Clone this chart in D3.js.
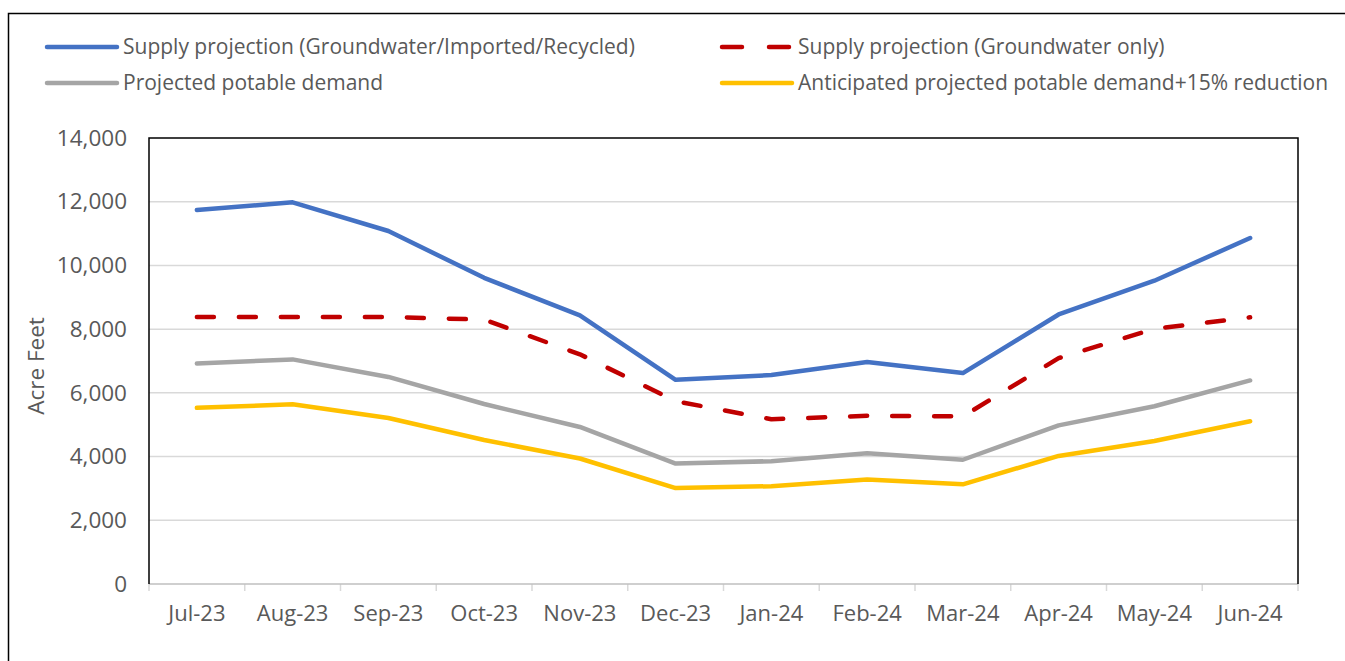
<!DOCTYPE html>
<html>
<head>
<meta charset="utf-8">
<script src="https://cdn.jsdelivr.net/npm/d3@7"></script>
<style>
  body { margin: 0; background: #fff; }
  text { font-family: "Open Sans", sans-serif; fill: #595959; }
</style>
</head>
<body>
<div id="chart"></div>
<script>
// Monthly water supply vs demand projection (acre feet)

var months = ["Jul-23", "Aug-23", "Sep-23", "Oct-23", "Nov-23", "Dec-23",
              "Jan-24", "Feb-24", "Mar-24", "Apr-24", "May-24", "Jun-24"];

var supplyAll = [11740, 11980, 11080, 9610, 8430, 6410, 6560, 6970, 6620, 8460, 9520, 10860];
var supplyGroundwater = [8380, 8380, 8380, 8300, 7210, 5740, 5170, 5280, 5260, 7090, 8010, 8370];
var potableDemand = [6920, 7050, 6500, 5650, 4930, 3780, 3855, 4105, 3900, 4980, 5580, 6390];
var reducedDemand = [5530, 5640, 5210, 4520, 3940, 3010, 3070, 3280, 3130, 4020, 4490, 5110];

var yTicks = [0, 2000, 4000, 6000, 8000, 10000, 12000, 14000];

var seriesNames = [
  "Supply projection (Groundwater/Imported/Recycled)",
  "Supply projection (Groundwater only)",
  "Projected potable demand",
  "Anticipated projected potable demand+15% reduction"
];

var series = [
  { name: seriesNames[0], values: supplyAll, color: "#4472C4", dash: null },
  { name: seriesNames[1], values: supplyGroundwater, color: "#C00000", dash: "17,25" },
  { name: seriesNames[2], values: potableDemand, color: "#A5A5A5", dash: null },
  { name: seriesNames[3], values: reducedDemand, color: "#FFC000", dash: null }
];

// chart set up
var svgWidth = 1345;
var svgHeight = 661;
var plot = { left: 149, right: 1298, top: 138, bottom: 584 };

var svg = d3.select("#chart")
  .append("svg")
  .attr("width", svgWidth)
  .attr("height", svgHeight);

// outer frame (left and top only)
svg.append("path")
  .attr("d", "M8.5," + svgHeight + " V13.5 H" + svgWidth)
  .attr("fill", "none")
  .attr("stroke", "#000")
  .attr("stroke-width", 1.5);

var x = d3.scaleBand()
  .domain(months)
  .range([plot.left, plot.right])
  .padding(0);

var y = d3.scaleLinear()
  .domain([0, 14000])
  .range([plot.bottom, plot.top]);

// gridlines
svg.append("g")
  .selectAll("line")
  .data(yTicks.filter(d => d > 0 && d < 14000))
  .enter()
  .append("line")
  .attr("x1", plot.left)
  .attr("x2", plot.right)
  .attr("y1", d => y(d))
  .attr("y2", d => y(d))
  .attr("stroke", "#D9D9D9")
  .attr("stroke-width", 1.5);

// y axis labels
var yAxis = svg.append("g")
  .attr("transform", "translate(" + plot.left + ",0)")
  .call(d3.axisLeft(y).tickValues(yTicks).tickSize(0).tickPadding(22).tickFormat(d3.format(",")));
yAxis.select(".domain").remove();
yAxis.selectAll("text")
  .attr("font-size", "22.5px")
  .attr("fill", "#595959")
  .style("font-family", "'Open Sans', sans-serif");

// x axis
var xAxis = svg.append("g")
  .attr("transform", "translate(0," + plot.bottom + ")")
  .call(d3.axisBottom(x).tickSize(0).tickPadding(21));
xAxis.select(".domain").remove();
xAxis.selectAll("text")
  .attr("font-size", "22px")
  .attr("fill", "#595959")
  .style("font-family", "'Open Sans', sans-serif");

// x tick marks at category boundaries
var bounds = months.map(m => x(m)).concat([plot.right]);
svg.append("g")
  .selectAll("line")
  .data(bounds)
  .enter()
  .append("line")
  .attr("x1", d => d)
  .attr("x2", d => d)
  .attr("y1", plot.bottom)
  .attr("y2", plot.bottom + 7)
  .attr("stroke", "#D9D9D9")
  .attr("stroke-width", 1.5);

// bottom axis line
svg.append("line")
  .attr("x1", plot.left)
  .attr("x2", plot.right)
  .attr("y1", plot.bottom)
  .attr("y2", plot.bottom)
  .attr("stroke", "#BFBFBF")
  .attr("stroke-width", 1.5);

// plot border (left, top, right)
svg.append("path")
  .attr("d", "M" + plot.left + "," + plot.bottom + " V" + plot.top + " H" + plot.right + " V" + plot.bottom)
  .attr("fill", "none")
  .attr("stroke", "#000")
  .attr("stroke-width", 1.5);

// y axis title
svg.append("text")
  .attr("transform", "translate(44," + ((plot.top + plot.bottom) / 2 + 5) + ") rotate(-90)")
  .attr("text-anchor", "middle")
  .attr("font-size", "22.5px")
  .text("Acre Feet");

// lines
var line = d3.line()
  .x((d, i) => x(months[i]) + x.bandwidth() / 2)
  .y(d => y(d));

svg.append("g")
  .selectAll("path")
  .data(series)
  .enter()
  .append("path")
  .attr("d", d => line(d.values))
  .attr("fill", "none")
  .attr("stroke", d => d.color)
  .attr("stroke-width", 4.5)
  .attr("stroke-linecap", "round")
  .attr("stroke-linejoin", "round")
  .attr("stroke-dasharray", d => d.dash);

// legend
var legendPos = [
  { x: 45, y: 47 },
  { x: 720, y: 47 },
  { x: 45, y: 83 },
  { x: 720, y: 83 }
];

var legend = svg.append("g")
  .selectAll("g")
  .data(series)
  .enter()
  .append("g")
  .attr("transform", (d, i) => "translate(" + legendPos[i].x + "," + legendPos[i].y + ")");

legend.append("line")
  .attr("x1", 2)
  .attr("x2", 72)
  .attr("y1", 0)
  .attr("y2", 0)
  .attr("stroke", d => d.color)
  .attr("stroke-width", 4.5)
  .attr("stroke-linecap", "round")
  .attr("stroke-dasharray", d => d.dash ? "20,27" : null);

legend.append("text")
  .attr("x", 78)
  .attr("y", 0)
  .attr("dy", "0.35em")
  .attr("font-size", "21px")
  .text(d => d.name);
</script>
</body>
</html>
